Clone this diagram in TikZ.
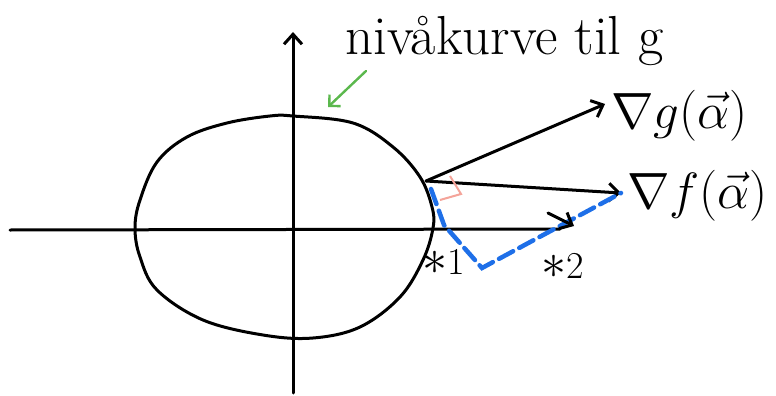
\RequirePackage{fix-cm}
\documentclass[tikz,border=0pt]{standalone}
\usepackage{amsmath,amssymb}
\usepackage{fontspec}
\usetikzlibrary{arrows.meta,positioning,calc}
\definecolor{ink}{HTML}{000000}
\definecolor{leaf}{HTML}{5BB84D}
\definecolor{path}{HTML}{1E6FE8}
\definecolor{blush}{HTML}{F4A49A}
\tikzset{
  stroke/.style={line width=3pt, draw=ink, line cap=round, line join=round},
  arr/.style={stroke, -{Straight Barb[length=10pt,width=18pt,line width=3pt]}},
  lab/.style={font=\fontsize{55}{60}\selectfont, text=ink, inner sep=0pt},
  grad/.style={font=\fontsize{51}{56}\selectfont, text=ink, inner sep=0pt},
  tag/.style={font=\fontsize{38}{40}\selectfont, text=ink, inner sep=0pt},
}
\begin{document}
\begin{tikzpicture}[x=1pt,y=-1pt]
  \useasboundingbox (0,0) rectangle (776,396);
  % axes
  \coordinate (xa) at (10,230);
  \coordinate (xb) at (574,226);
  \coordinate (ya) at (293,393);
  \coordinate (yb) at (293,32);
  \draw[stroke] (xa) -- (560,229);
  \draw[arr] (ya) -- (yb);
  % level curve of g
  \draw[stroke] plot[smooth cycle, tension=0.6] coordinates {
    (135,228) (140,200) (157,162) (187,137) (227,123) (270,116) (293,116)
    (353,123) (393,147) (420,177) (432,207) (433,228) (423,260) (400,297)
    (360,327) (313,338) (263,335) (203,320) (157,290) (140,257)};
  % point alpha and gradients
  \coordinate (P) at (426,181);
  \node[grad, anchor=west] (gg) at (611,116) {$\nabla g(\vec{\alpha})$};
  \node[grad, anchor=west] (gf) at (627,196) {$\nabla f(\vec{\alpha})$};
  \coordinate (tg) at (605,104);
  \coordinate (tf) at (621,193);
  \draw[arr] (P) -- (tg);
  \draw[arr] (P) -- (tf);
  \draw[line width=2pt, blush] (450,176) -- (461,194) -- (440,200);
  % path along the curve
  \draw[path, line width=4.5pt, dash pattern=on 16pt off 7pt, line cap=round]
    (431,189) -- (444,225) -- (482,268) -- (tf);
  \draw[stroke, -{Straight Barb[length=10pt,width=18pt,line width=3pt]}] (548,213) -- (xb);
  \node[tag] (s1) at (444,262) {{\fontsize{50}{50}\selectfont$\ast$}1};
  \node[tag] (s2) at (563,266) {{\fontsize{50}{50}\selectfont$\ast$}2};
  % label
  \node[lab, anchor=base west] (lvl) at (345,55) {nivåkurve til g};
  \coordinate (gs) at (366,71);
  \draw[line width=2.4pt, leaf, line cap=round, -{Straight Barb[length=8pt,width=16pt,line width=2.4pt]}]
    (gs) -- (328,107);
\end{tikzpicture}
\end{document}
